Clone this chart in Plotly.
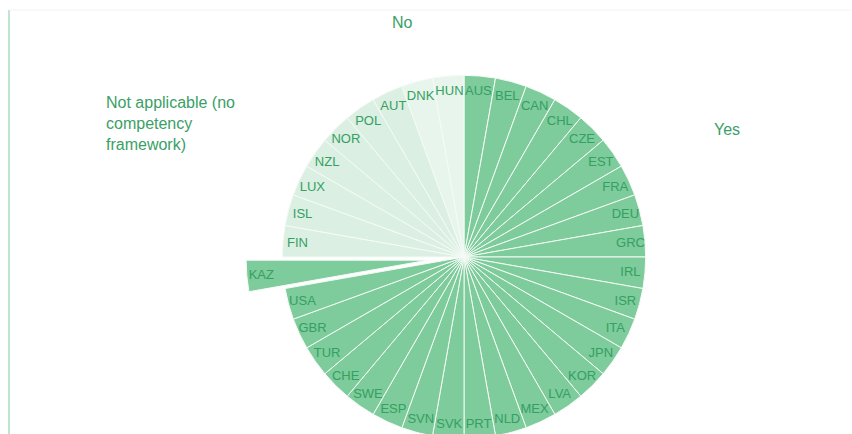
import plotly.graph_objects as go

countries = ["AUS", "BEL", "CAN", "CHL", "CZE", "EST", "FRA", "DEU", "GRC", "IRL",
             "ISR", "ITA", "JPN", "KOR", "LVA", "MEX", "NLD", "PRT", "SVK", "SVN",
             "ESP", "SWE", "CHE", "TUR", "GBR", "USA", "KAZ",
             "FIN", "ISL", "LUX", "NZL", "NOR", "POL", "AUT",
             "DNK", "HUN"]
answers = ["Yes"] * 27 + ["Not applicable"] * 7 + ["No"] * 2
values = [1] * len(countries)
pulled = ["KAZ"]

colour_map = {"Yes": "#7ecb9b", "Not applicable": "#dcefe3", "No": "#e7f5ec"}
colours = [colour_map[a] for a in answers]
pulls = [0.2 if c in pulled else 0 for c in countries]

W, H = 852, 500
cx, cy_top = 464, 257
half = 218
cy = H - cy_top

fig = go.Figure(go.Pie(
    labels=countries, values=values, text=countries,
    sort=False, direction="clockwise", rotation=0,
    marker=dict(colors=colours, line=dict(color="#f4fbf6", width=1)),
    pull=pulls,
    textinfo="text", textposition="inside", insidetextorientation="horizontal",
    textfont=dict(family="Liberation Sans, Arial, sans-serif", size=13, color="#34a062"),
    hoverinfo="label",
    showlegend=False,
    domain=dict(x=[(cx - half) / W, (cx + half) / W], y=[(cy - half) / H, (cy + half) / H]),
))

afont = dict(family="Liberation Sans, Arial, sans-serif", size=16, color="#3aa066")
fig.add_annotation(x=402 / W, y=1 - 22 / H, xref="paper", yref="paper", text="No",
                   showarrow=False, font=afont, xanchor="center", yanchor="middle")
fig.add_annotation(x=727 / W, y=1 - 129 / H, xref="paper", yref="paper", text="Yes",
                   showarrow=False, font=afont, xanchor="center", yanchor="middle")
fig.add_annotation(x=104 / W, y=1 - 92 / H, xref="paper", yref="paper",
                   text="Not applicable (no<br>competency<br>framework)", align="left",
                   showarrow=False, font=afont, xanchor="left", yanchor="top")

fig.add_shape(type="line", xref="paper", yref="paper", x0=9 / W, x1=9 / W, y0=0, y1=1 - 10 / H,
              line=dict(color="#a8dcbc", width=1.5))
fig.add_shape(type="line", xref="paper", yref="paper", x0=9 / W, x1=1, y0=1 - 10 / H, y1=1 - 10 / H,
              line=dict(color="#f3f3f3", width=1))

fig.update_layout(width=W, height=H, autosize=False,
                  margin=dict(l=0, r=0, t=0, b=0),
                  uniformtext=dict(minsize=13, mode="show"),
                  paper_bgcolor="white", plot_bgcolor="white")

fig.write_html("out.html",
               post_script="document.body.style.overflow='hidden';document.body.style.margin='0';")
